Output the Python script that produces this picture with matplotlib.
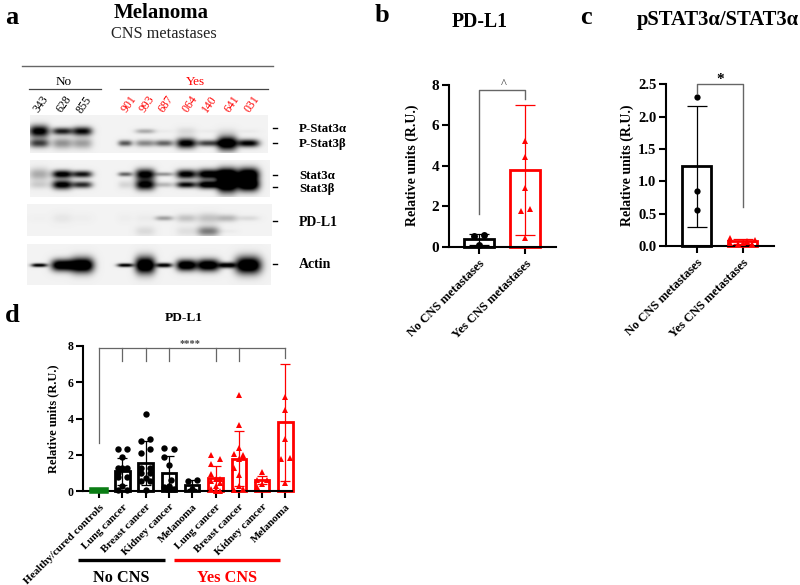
import numpy as np
import matplotlib
matplotlib.use('Agg')
import matplotlib.pyplot as plt

plt.rcParams['font.family'] = ['Liberation Serif', 'DejaVu Sans']

W, H = 800, 585
RED = '#ff0000'
GREEN = '#0a7d14'
GRAY = '#666666'

# --- panel b / c data
groups_cns = ['No CNS metastases', 'Yes CNS metastases']

pdl1_no = [0.55, 0.6, 0.1]
pdl1_no_off = [-0.1, 0.1, 0.0]
pdl1_yes = [5.2, 4.45, 2.9, 1.75, 1.85, 0.45]
pdl1_yes_off = [0.0, 0.0, 0.0, -0.1, 0.1, 0.0]
pdl1_means = [0.37, 3.8]
pdl1_sds = [0.27, 3.22]

pstat_no = [2.3, 0.85, 0.55]
pstat_no_off = [0.0, 0.0, 0.0]
pstat_yes = [0.13, 0.04, 0.03, 0.05, 0.07, 0.03, 0.09]
pstat_yes_off = [-0.27, -0.27, -0.1, 0.0, 0.1, 0.2, 0.27]
pstat_means = [1.23, 0.07]
pstat_sds = [0.93, 0.04]

# --- panel d data
cancer_labels = ['Healthy/cured controls', 'Lung cancer', 'Breast cancer', 'Kidney cancer', 'Melanoma',
                 'Lung cancer', 'Breast cancer', 'Kidney cancer', 'Melanoma']
all_means = [0.05, 1.1, 1.55, 1.0, 0.37, 0.72, 1.8, 0.62, 3.8]
all_sds = [0.03, 0.75, 1.2, 0.95, 0.27, 0.68, 1.53, 0.23, 3.22]
all_colors = [GREEN, 'black', 'black', 'black', 'black', RED, RED, RED, RED]
all_points = [
    [],
    [2.32, 2.33, 1.87, 1.28, 1.3, 1.28, 1.0, 0.8, 0.8, 0.3, 0.08, 0.08],
    [4.25, 2.9, 2.75, 2.35, 2.1, 1.3, 1.3, 1.0, 1.0, 0.75, 0.55, 0.55, 0.05],
    [2.4, 2.3, 1.9, 1.45, 0.6, 0.3, 0.25, 0.15, 0.12, 0.1],
    [0.55, 0.6, 0.1],
    [2.0, 1.75, 1.5, 0.97, 0.7, 0.65, 0.55, 0.45, 0.3, 0.1, 0.05, 0.0, 0.0],
    [5.3, 3.67, 2.4, 2.05, 2.0, 1.9, 1.75, 1.3, 0.9, 0.3, 0.15, 0.05],
    [1.05, 0.6, 0.6, 0.4, 0.25],
    [5.2, 4.45, 2.9, 1.75, 1.85, 0.45],
]
all_offsets = [
    [],
    [-0.2, 0.2, 0.0, -0.2, 0.0, 0.2, -0.2, -0.2, 0.2, 0.0, -0.2, 0.2],
    [0.0, 0.2, -0.2, 0.2, -0.2, -0.2, 0.2, -0.2, 0.2, 0.0, -0.2, 0.2, 0.0],
    [-0.2, 0.2, -0.2, 0.0, 0.1, 0.0, -0.2, 0.2, -0.1, 0.1],
    [-0.2, 0.2, 0.0],
    [-0.2, 0.2, -0.2, -0.2, 0.0, 0.2, -0.2, 0.2, 0.0, -0.2, 0.0, 0.2, 0.0],
    [0.0, 0.0, 0.0, -0.2, 0.2, 0.2, 0.0, -0.2, 0.0, 0.0, 0.2, -0.2],
    [0.0, -0.2, 0.2, 0.0, -0.2],
    [0.0, 0.0, 0.0, -0.2, 0.2, 0.0],
]

# --- panel a data (band strength per lane)
samples = ['343', '628', '855', '901', '993', '687', '064', '140', '641', '031']
sample_colors = ['black'] * 3 + [RED] * 7
pstat_a = [1.1, 0.9, 1.0, 0.0, 0.3, 0.03, 0.1, 0.03, 0.05, 0.03]
pstat_b = [0.75, 0.4, 0.35, 0.65, 0.45, 0.6, 1.1, 0.75, 1.3, 1.05]
stat_a = [0.3, 1.1, 0.95, 0.6, 1.1, 0.4, 1.1, 1.2, 1.3, 1.3]
stat_b = [0.15, 1.1, 0.85, 0.12, 1.1, 0.25, 1.0, 1.2, 1.4, 1.4]
pdl1_band = [0.01, 0.05, 0.02, 0.02, 0.03, 0.35, 0.2, 0.2, 0.25, 0.1]
pdl1_low = [0.0, 0.0, 0.0, 0.0, 0.1, 0.0, 0.08, 0.5, 0.03, 0.0]
actin = [1.1, 1.3, 1.4, 1.1, 1.4, 1.1, 1.3, 1.3, 1.1, 1.4]

# lane centres and band shapes, in pixels
lane_x = [39, 62, 82, 125, 145, 164, 186, 208, 227, 248]
pstat_a_h = [6, 3.6, 4.4, 2, 2.4, 2, 4, 2, 4, 2]
pstat_b_h = [4.4, 5.4, 5.4, 3, 3.4, 3.2, 5, 3.2, 7, 3.8]
stat_a_h = [6, 4, 3.4, 2.2, 5.4, 2, 4.5, 5, 6.5, 6.5]
stat_b_h = [4, 4.6, 3.4, 4, 5.4, 2.6, 3.2, 4, 8, 6.5]
pdl1_h = [3, 5, 4, 4, 4, 2.4, 4, 5, 3.6, 2.6]
pdl1_low_h = [2, 2, 2, 2, 5, 2, 5, 5, 2, 2]
actin_h = [1.8, 5.8, 7.5, 1.8, 8.5, 2.2, 5.6, 6, 2.8, 8.5]
actin_w = [8, 11, 11.5, 8, 10, 8, 10, 11.5, 8, 13]
default_w = [10, 10, 10, 7, 10, 9, 10, 11, 10, 11]


def px_axes(x0, y0, x1, y1):
    return fig.add_axes([x0 / W, 1 - y1 / H, (x1 - x0) / W, (y1 - y0) / H])


def blot(x0, y0, x1, y1, bands, bg=0.95):
    # bands: (row y in px, strengths, half heights, half widths)
    xs = np.arange(x0, x1, 0.5)
    ys = np.arange(y0, y1, 0.5)
    xx, yy = np.meshgrid(xs, ys)
    dark = np.zeros_like(xx)
    for yc, strength, heights, widths in bands:
        for lx, s, h, w in zip(lane_x, strength, heights, widths):
            dark += s * np.exp(-np.abs((xx - lx) / w) ** 3 - ((yy - yc) / h) ** 2)
    img = bg * (1 - np.clip(dark, 0, 1))
    ax = px_axes(x0, y0, x1, y1)
    ax.imshow(img, cmap='gray', vmin=0, vmax=1, aspect='auto', interpolation='bilinear')
    ax.axis('off')


def style_axes(ax, fs, lw=1.5):
    for s in ['top', 'right']:
        ax.spines[s].set_visible(False)
    for s in ['left', 'bottom']:
        ax.spines[s].set_linewidth(lw)
    ax.tick_params(axis='both', width=lw, length=5, labelsize=fs, pad=2)
    for lab in ax.get_xticklabels() + ax.get_yticklabels():
        lab.set_fontweight('bold')
    ax.patch.set_alpha(0)


def bar_panel(box, x_first, x_step, means, sds, colors, points, offsets, labels, yticks, ylim,
              bar_w=0.64, ms=5, lw=2, fs=10, label_fs=9):
    ax = px_axes(*box)
    ax.set_xlim((box[0] - x_first) / x_step, (box[2] - x_first) / x_step)
    ax.set_ylim(*ylim)
    x = np.arange(len(means))
    for i in x:
        green = colors[i] == GREEN
        ax.bar(i, means[i], width=bar_w, facecolor=colors[i] if green else 'white',
               edgecolor=colors[i], linewidth=4 if green else lw, zorder=3 if green else 2, clip_on=False)
        ax.errorbar(i, means[i], yerr=sds[i], color=colors[i], capsize=bar_w * x_step / 3 * 0.72,
                    elinewidth=0.9, capthick=0.9, zorder=3, clip_on=False)
        m = '^' if colors[i] == RED else 'o'
        ax.plot(i + np.array(offsets[i]), points[i], m, color=colors[i], ms=ms, mew=0, zorder=4, clip_on=False)
    ax.set_xticks(x)
    ax.set_xticklabels(labels, rotation=45, ha='right', rotation_mode='anchor')
    ax.set_yticks(yticks)
    style_axes(ax, fs)
    for lab in ax.get_xticklabels():
        lab.set_fontsize(label_fs)
    ax.tick_params(axis='x', pad=3)
    return ax


fig = plt.figure(figsize=(W / 100, H / 100), dpi=100)

# panel a
blot(30, 115, 268, 153, [(131, pstat_a, pstat_a_h, default_w), (143, pstat_b, pstat_b_h, default_w)])
blot(30, 160, 270, 197, [(174, stat_a, stat_a_h, default_w), (184.5, stat_b, stat_b_h, default_w)])
blot(27, 204, 272, 236, [(218, pdl1_band, pdl1_h, default_w), (231, pdl1_low, pdl1_low_h, default_w)])
blot(27, 244, 271, 285, [(265, actin, actin_h, actin_w)])

# panel b
ax_b = bar_panel((449, 84.7, 556, 246.7), 479, 46.3, pdl1_means, pdl1_sds, ['black', RED],
                 [pdl1_no, pdl1_yes], [pdl1_no_off, pdl1_yes_off], groups_cns, [0, 2, 4, 6, 8], (0, 8), fs=11)
ax_b.set_ylabel('Relative units (R.U.)', fontweight='bold', fontsize=10, labelpad=9)
ax_b.plot([0, 0, 1, 1], [1.6, 7.75, 7.75, 7.3], color=GRAY, lw=1, clip_on=False, zorder=1)
ax_b.text(0.53, 7.72, '^', ha='center', va='bottom', fontsize=9, color='#333333')

# panel c
ax_c = bar_panel((666, 84.3, 774, 246), 696.7, 46, pstat_means, pstat_sds, ['black', RED],
                 [pstat_no, pstat_yes], [pstat_no_off, pstat_yes_off], groups_cns,
                 [0, 0.5, 1, 1.5, 2, 2.5], (0, 2.5), ms=4.5, fs=10.5)
ax_c.set_yticklabels(['0.0', '0.5', '1.0', '1.5', '2.0', '2.5'])
ax_c.set_ylabel('Relative units (R.U.)', fontweight='bold', fontsize=10, labelpad=3)
ax_c.plot([0, 0, 1, 1], [2.37, 2.5, 2.5, 0.6], color=GRAY, lw=1, clip_on=False, zorder=1)
ax_c.text(0.5, 2.47, '*', ha='center', va='bottom', fontsize=11, fontweight='bold')

# panel d
ax_d = bar_panel((83.3, 345.7, 292, 491.3), 99, 23.3, all_means, all_sds, all_colors, all_points, all_offsets,
                 cancer_labels, [0, 2, 4, 6, 8], (0, 8), ms=4.6, fs=8.5, label_fs=8, bar_w=0.62)
ax_d.set_ylabel('Relative units (R.U.)', fontweight='bold', fontsize=9, labelpad=6)
ax_d.plot([0, 0], [2.65, 7.9], color=GRAY, lw=0.9, clip_on=False, zorder=1)
ax_d.plot([0, 8], [7.9, 7.9], color=GRAY, lw=0.9, clip_on=False, zorder=1)
for k in [1, 2, 3, 5, 6]:
    ax_d.plot([k, k], [7.15, 7.9], color=GRAY, lw=0.9, clip_on=False, zorder=1)
ax_d.plot([8, 8], [7.3, 7.9], color=GRAY, lw=0.9, clip_on=False, zorder=1)
ax_d.text(3.9, 7.9, '****', ha='center', va='bottom', fontsize=7.5, fontweight='bold', color='#444444')

# overlay in pixel coordinates for the labels and rules
ov = fig.add_axes([0, 0, 1, 1], zorder=10)
ov.set_xlim(0, W)
ov.set_ylim(H, 0)
ov.axis('off')

for letter, lx, ly in [('a', 12, 17), ('b', 382, 15), ('c', 586, 17), ('d', 12, 315)]:
    ov.text(lx, ly, letter, fontsize=19, fontweight='bold', ha='center', va='center')

ov.text(161, 13, 'Melanoma', fontsize=15, fontweight='bold', ha='center', va='center')
ov.text(163.5, 34, 'CNS metastases', fontsize=11.7, ha='center', va='center', color='#222222')
ov.plot([22, 273], [66, 66], color='#666666', lw=1)
ov.text(64, 82, 'No', fontsize=9.5, ha='center', va='center')
ov.text(195, 82, 'Yes', fontsize=9.5, ha='center', va='center', color=RED)
ov.plot([29, 101], [88.5, 88.5], color='#444444', lw=0.9)
ov.plot([120, 268], [88.5, 88.5], color='#444444', lw=0.9)

for lab, col, sx in zip(samples, sample_colors, [41, 64, 84, 129, 147, 166, 190, 210, 232, 252]):
    ov.text(sx, 104.5, lab, fontsize=8.5, rotation=55, ha='center', va='center', color=col)

for y in [128, 143, 175, 187, 221, 264]:
    ov.plot([273, 276.5], [y, y], color='black', lw=1)

for lab, y, fs in [('P-Stat3α', 129, 9.3), ('P-Stat3β', 144, 9.3), ('Stat3α', 176, 9.3), ('Stat3β', 189, 9.3),
                   ('PD-L1', 222, 10), ('Actin', 264, 10)]:
    ov.text(299, y, lab, fontsize=fs, fontweight='bold', ha='left', va='center')

ov.text(480, 22, 'PD-L1', fontsize=14.2, fontweight='bold', ha='center', va='center')
ov.text(718, 20, 'pSTAT3α/STAT3α', fontsize=14.9, fontweight='bold', ha='center', va='center')
ov.text(184, 318, 'PD-L1', fontsize=9.6, fontweight='bold', ha='center', va='center')

ov.plot([78, 165], [559.5, 559.5], color='black', lw=2.4, solid_capstyle='butt')
ov.plot([174, 280], [559.5, 559.5], color=RED, lw=2.4, solid_capstyle='butt')
ov.text(121, 578, 'No CNS', fontsize=11.7, fontweight='bold', ha='center', va='center')
ov.text(227, 578, 'Yes CNS', fontsize=11.7, fontweight='bold', ha='center', va='center', color=RED)

fig.savefig('out.png', dpi=100)
